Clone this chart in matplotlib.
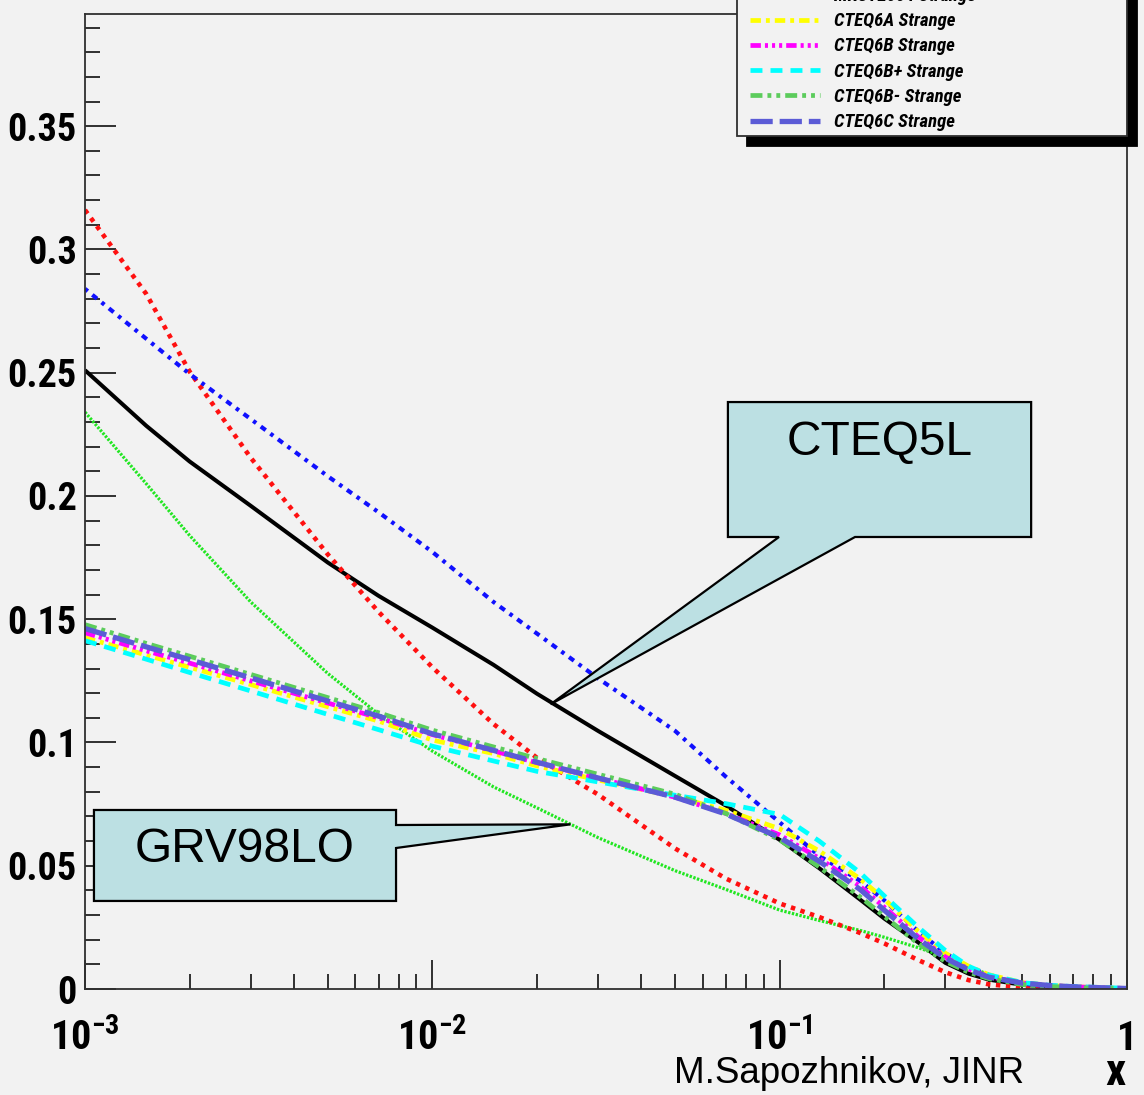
import matplotlib
matplotlib.use("Agg")
import matplotlib.pyplot as plt
from matplotlib import font_manager as fm
from matplotlib.font_manager import FontProperties
from matplotlib.legend_handler import HandlerLine2D
from matplotlib.lines import Line2D
from matplotlib.patches import Polygon
from matplotlib.ticker import FixedLocator, NullFormatter

# ---------------------------------------------------------------- data
x = [0.001, 0.0015, 0.002, 0.003, 0.005, 0.007, 0.01, 0.015, 0.02, 0.03,
     0.05, 0.07, 0.1, 0.13, 0.17, 0.2, 0.25, 0.3, 0.35, 0.4, 0.5, 0.6,
     0.7, 0.85, 1.0]

cteq5l = [0.251, 0.2285, 0.214, 0.196, 0.173, 0.1595, 0.1466, 0.1315, 0.1198,
          0.1047, 0.0864, 0.0744, 0.0605, 0.0490, 0.0364, 0.0286, 0.0190,
          0.0106, 0.0062, 0.0038, 0.0017, 0.0009, 0.0005, 0.0002, 0.0]
grv98lo = [0.234, 0.205, 0.184, 0.157, 0.128, 0.1115, 0.0965, 0.082, 0.0735,
           0.0614, 0.048, 0.0404, 0.032, 0.0278, 0.0238, 0.021, 0.0168, 0.013,
           0.0092, 0.0058, 0.0018, 0.0006, 0.0002, 0.0001, 0.0]
mrst2001 = [0.316, 0.282, 0.2505, 0.2155, 0.1763, 0.153, 0.1305, 0.1075,
            0.0938, 0.0789, 0.057, 0.0448, 0.0347, 0.0292, 0.0228, 0.0185,
            0.0118, 0.0068, 0.0036, 0.0019, 0.0006, 0.0002, 0.0001, 0.0, 0.0]
mrst2004 = [0.284, 0.2638, 0.2495, 0.2312, 0.208, 0.1934, 0.1773, 0.157,
            0.1442, 0.126, 0.1047, 0.0861, 0.0676, 0.054, 0.044, 0.036,
            0.0235, 0.0145, 0.009, 0.0055, 0.0022, 0.001, 0.0006, 0.0003,
            0.0001]
cteq6a = [0.1425, 0.1355, 0.1305, 0.1235, 0.1145, 0.1087, 0.1010, 0.0955,
          0.0905, 0.0848, 0.0780, 0.0725, 0.0650, 0.0560, 0.0448, 0.0365,
          0.0235, 0.0145, 0.0092, 0.0058, 0.0026, 0.0014, 0.0009, 0.0005,
          0.0002]
cteq6b = [0.1445, 0.1372, 0.1322, 0.1250, 0.1160, 0.1100, 0.1032, 0.0966,
          0.0918, 0.0855, 0.0778, 0.0712, 0.0625, 0.0530, 0.0418, 0.0332,
          0.0213, 0.0130, 0.0081, 0.0050, 0.0024, 0.0014, 0.0009, 0.0005,
          0.0002]
cteq6b_plus = [0.1413, 0.1338, 0.1284, 0.1209, 0.1114, 0.1052, 0.0985,
               0.0925, 0.0883, 0.0840, 0.0786, 0.0752, 0.0708, 0.0600,
               0.0473, 0.0378, 0.0252, 0.0156, 0.0092, 0.0057, 0.0026,
               0.0015, 0.0010, 0.0006, 0.0003]
cteq6b_minus = [0.1478, 0.1402, 0.1350, 0.1276, 0.1182, 0.1121, 0.1050,
                0.0982, 0.0935, 0.0871, 0.0790, 0.0712, 0.0605, 0.0495,
                0.0375, 0.0295, 0.0185, 0.0112, 0.0068, 0.0042, 0.0018,
                0.0010, 0.0006, 0.0003, 0.0001]
cteq6c = [0.1462, 0.1388, 0.1336, 0.1262, 0.1168, 0.1107, 0.1035, 0.0968,
          0.0920, 0.0856, 0.0778, 0.0710, 0.0615, 0.0518, 0.0405, 0.0320,
          0.0205, 0.0125, 0.0078, 0.0048, 0.0024, 0.0014, 0.0009, 0.0005,
          0.0002]

x_ticks = [0.001, 0.01, 0.1, 1.0]
x_tick_labels = ["$10^{-3}$", "$10^{-2}$", "$10^{-1}$", "1"]
y_ticks = [0.0, 0.05, 0.1, 0.15, 0.2, 0.25, 0.3, 0.35]
y_tick_labels = ["0", "0.05", "0.1", "0.15", "0.2", "0.25", "0.3", "0.35"]

# callout anchor points on the curves
cteq5l_tip = (0.0219, 0.1155)
grv_tip = (0.025, 0.0668)

# ---------------------------------------------------------------- style
names = {f.name for f in fm.fontManager.ttflist}
COND = next((n for n in ("Roboto Condensed", "Liberation Sans Narrow",
                         "IBM Plex Sans Condensed", "Liberation Sans") if n in names))
PLAIN = "Liberation Sans"

BG = "#f2f2f2"
plt.rcParams["lines.scale_dashes"] = False
plt.rcParams["mathtext.fontset"] = "custom"
plt.rcParams["mathtext.rm"] = f"{COND}:bold"
plt.rcParams["mathtext.bf"] = f"{COND}:bold"
plt.rcParams["mathtext.it"] = f"{COND}:bold"
plt.rcParams["mathtext.default"] = "rm"

fig = plt.figure(figsize=(11.44, 10.95), dpi=100, facecolor=BG)
ax = fig.add_axes([85 / 1144, 106 / 1095, 1042 / 1144, 975 / 1095])
ax.set_facecolor(BG)

series = [
    ("CTEQ5L Strange", cteq5l, dict(color="black", lw=2.9, ls="-")),
    ("GRV98LO Strange", grv98lo, dict(color="#22e622", lw=2.3, dashes=(1.7, 1.1))),
    ("MRST2001 Strange", mrst2001, dict(color="#ff1010", lw=3.3, dashes=(3.2, 4.0))),
    ("MRST2004 Strange", mrst2004, dict(color="#1010ff", lw=3.0, dashes=(2.6, 4.2, 4.4, 4.2))),
    ("CTEQ6A Strange", cteq6a, dict(color="#ffff00", lw=3.4, dashes=(7.5, 3.6, 2.8, 3.6))),
    ("CTEQ6B Strange", cteq6b, dict(color="#ff00ff", lw=3.4, dashes=(7.5, 2.9, 2.2, 2.9, 2.2, 2.9, 2.2, 2.9))),
    ("CTEQ6B+ Strange", cteq6b_plus, dict(color="#00ffff", lw=3.4, dashes=(8.6, 5.8))),
    ("CTEQ6B- Strange", cteq6b_minus, dict(color="#5ccc5c", lw=3.4, dashes=(8.6, 3.6, 2.8, 3.6, 2.8, 3.6))),
    ("CTEQ6C Strange", cteq6c, dict(color="#5b5bd6", lw=3.8, dashes=(16, 5))),
]

handles = []
for label, vals, kw in series:
    (ln,) = ax.plot(x, vals, label=label, solid_capstyle="butt", **kw)
    handles.append(ln)

ax.set_xscale("log")
ax.set_xlim(0.001, 1.0)
ax.set_ylim(0.0, 0.3955)

# ---------------------------------------------------------------- axes
for side, sp in ax.spines.items():
    sp.set_color("#303030")
    sp.set_linewidth(1.3)

ax.xaxis.set_major_locator(FixedLocator(x_ticks))
ax.xaxis.set_minor_locator(FixedLocator(
    [m * 10.0 ** e for e in (-3, -2, -1) for m in range(2, 10)]))
ax.xaxis.set_minor_formatter(NullFormatter())
ax.set_xticks(x_ticks)
ax.set_xticklabels(x_tick_labels, fontfamily=COND, fontweight="bold", fontsize=29)

ax.yaxis.set_major_locator(FixedLocator(y_ticks))
ax.yaxis.set_minor_locator(FixedLocator([i / 100 for i in range(0, 40)]))
ax.set_yticks(y_ticks)
ax.set_yticklabels(y_tick_labels, fontfamily=COND, fontweight="bold", fontsize=27.5)

ax.tick_params(which="both", direction="in", top=False, right=False, color="#303030")
ax.tick_params(axis="y", which="major", length=22, width=1.4, pad=6)
ax.tick_params(axis="y", which="minor", length=11, width=1.4)
ax.tick_params(axis="x", which="major", length=21, width=1.4, pad=44)
ax.tick_params(axis="x", which="minor", length=11, width=1.4)
for t in ax.get_xticklabels():
    t.set_verticalalignment("baseline")

# ---------------------------------------------------------------- callouts
def data_to_axes(pt):
    return tuple(ax.transAxes.inverted().transform(ax.transData.transform(pt)))

BOX = "#bce0e3"
tip = data_to_axes(cteq5l_tip)
ax.add_patch(Polygon(
    [(0.617, 0.602), (0.908, 0.602), (0.908, 0.4636), (0.739, 0.4636), tip,
     (0.666, 0.4636), (0.617, 0.4636)],
    closed=True, transform=ax.transAxes, facecolor=BOX, edgecolor="black",
    lw=1.6, clip_on=False, zorder=10))
ax.text(0.763, 0.561, "CTEQ5L", transform=ax.transAxes, ha="center", va="center",
        fontfamily=PLAIN, fontsize=34.5, zorder=11)

tip = data_to_axes(grv_tip)
ax.add_patch(Polygon(
    [(0.0086, 0.1836), (0.2985, 0.1836), (0.2985, 0.1682), tip, (0.2985, 0.1446),
     (0.2985, 0.0903), (0.0086, 0.0903)],
    closed=True, transform=ax.transAxes, facecolor=BOX, edgecolor="black",
    lw=1.6, clip_on=False, zorder=10))
ax.text(0.1536, 0.143, "GRV98LO", transform=ax.transAxes, ha="center", va="center",
        fontfamily=PLAIN, fontsize=34.5, zorder=11)

# ---------------------------------------------------------------- legend
LEG_FS = 13.5
leg = fig.legend(
    handles, [s[0] for s in series],
    loc="lower left",
    bbox_to_anchor=(737 / 1144, 1 - 136 / 1095, 390 / 1144, 0.2),
    bbox_transform=fig.transFigure, borderaxespad=0, mode="expand",
    prop=FontProperties(family=COND, weight="bold", style="italic", size=LEG_FS),
    frameon=True, fancybox=False, edgecolor="#303030", facecolor=BG, framealpha=1,
    shadow={"ox": 7.2, "oy": -7.2, "facecolor": "black", "edgecolor": "black", "alpha": 1},
    handler_map={Line2D: HandlerLine2D(xpad=0.44)},
    handlelength=4.18, handletextpad=0.75, labelspacing=0.39, borderpad=0.25)
leg.get_frame().set_linewidth(1.3)
leg.set_zorder(20)

# ---------------------------------------------------------------- texts
fig.text(849 / 1144, 1 - 1083 / 1095, "M.Sapozhnikov, JINR", ha="center",
         va="baseline", fontfamily=PLAIN, fontsize=26.5)
fig.text(1115 / 1144, 1 - 1085 / 1095, "x", ha="center", va="baseline",
         fontfamily=COND, fontweight="bold", fontsize=32)

fig.savefig("out.png", dpi=100, facecolor=BG)
